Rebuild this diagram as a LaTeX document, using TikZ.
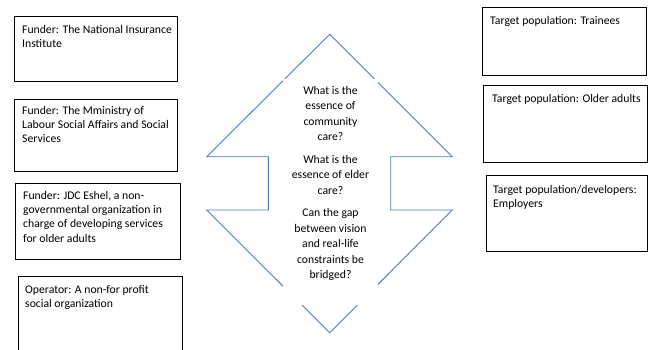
\documentclass[tikz,border=0pt]{standalone}
\usepackage{fontspec}
\setmainfont{Carlito}
\definecolor{arrowblue}{HTML}{4A7EBB}
\tikzset{
  box/.style={draw=black, line width=0.9pt, inner sep=0pt, anchor=north west},
  boxtext/.style={inner sep=0pt, anchor=north west, align=left, font=\fontsize{11.7}{14.3}\selectfont},
  qtext/.style={inner sep=0pt, anchor=north, align=center, font=\fontsize{11.7}{15.5}\selectfont},
  cover/.style={fill=white, draw=none, inner sep=0pt, anchor=north west},
  arrowline/.style={draw=arrowblue, line width=0.9pt, line join=miter}
}
\begin{document}
\begin{tikzpicture}[x=1pt,y=-1pt]
\useasboundingbox (0,0) rectangle (648,349);
\begin{scope}
\clip (0,0) rectangle (648,349);
% left boxes
\node[box, minimum width=163, minimum height=65] (b1) at (14,16) {};
\node[boxtext] (t1) at (22,25) {Funder: The National Insurance\\Institute};
\node[box, minimum width=163, minimum height=72] (b2) at (14,99) {};
\node[boxtext] (t2) at (22,106) {Funder: The Mministry of\\Labour Social Affairs and Social\\Services};
\node[box, minimum width=165, minimum height=76] (b3) at (15,183) {};
\node[boxtext] (t3) at (23,191) {Funder: JDC Eshel, a non-\\governmental organization in\\charge of developing services\\for older adults};
\node[box, minimum width=164, minimum height=90] (b4) at (18,276) {};
\node[boxtext] (t4) at (25,285) {Operator: A non-for profit\\social organization};
% right boxes
\node[box, minimum width=164, minimum height=68] (r1) at (482,7) {};
\node[boxtext] (u1) at (490,16) {Target population: Trainees};
\node[box, minimum width=164, minimum height=77] (r2) at (483,85) {};
\node[boxtext] (u2) at (492,94) {Target population: Older adults};
\node[box, minimum width=161, minimum height=76] (r3) at (486,175) {};
\node[boxtext] (u3) at (493,185) {Target population/developers:\\Employers};
% up-down arrow
\coordinate (top) at (329.7,34.3);
\coordinate (lw1) at (206.7,156.7);
\coordinate (ls1) at (268.3,156.7);
\coordinate (ls2) at (268.3,210);
\coordinate (lw2) at (206.7,210);
\coordinate (bot) at (329.7,332.7);
\coordinate (rw2) at (452.3,210);
\coordinate (rs2) at (390.7,210);
\coordinate (rs1) at (390.7,156.7);
\coordinate (rw1) at (452.3,156.7);
\draw[arrowline] (top) -- (lw1) -- (ls1) -- (ls2) -- (lw2) -- (bot) -- (rw2) -- (rs2) -- (rs1) -- (rw1) -- cycle;
\node[cover, minimum width=95, minimum height=226] (c) at (283,79) {};
\node[qtext] (q) at (330.5,86) {What is the\\essence of\\community\\care?\\[7pt]What is the\\essence of elder\\care?\\[7pt]Can the gap\\between vision\\and real-life\\constraints be\\bridged?};
\end{scope}
\end{tikzpicture}
\end{document}
